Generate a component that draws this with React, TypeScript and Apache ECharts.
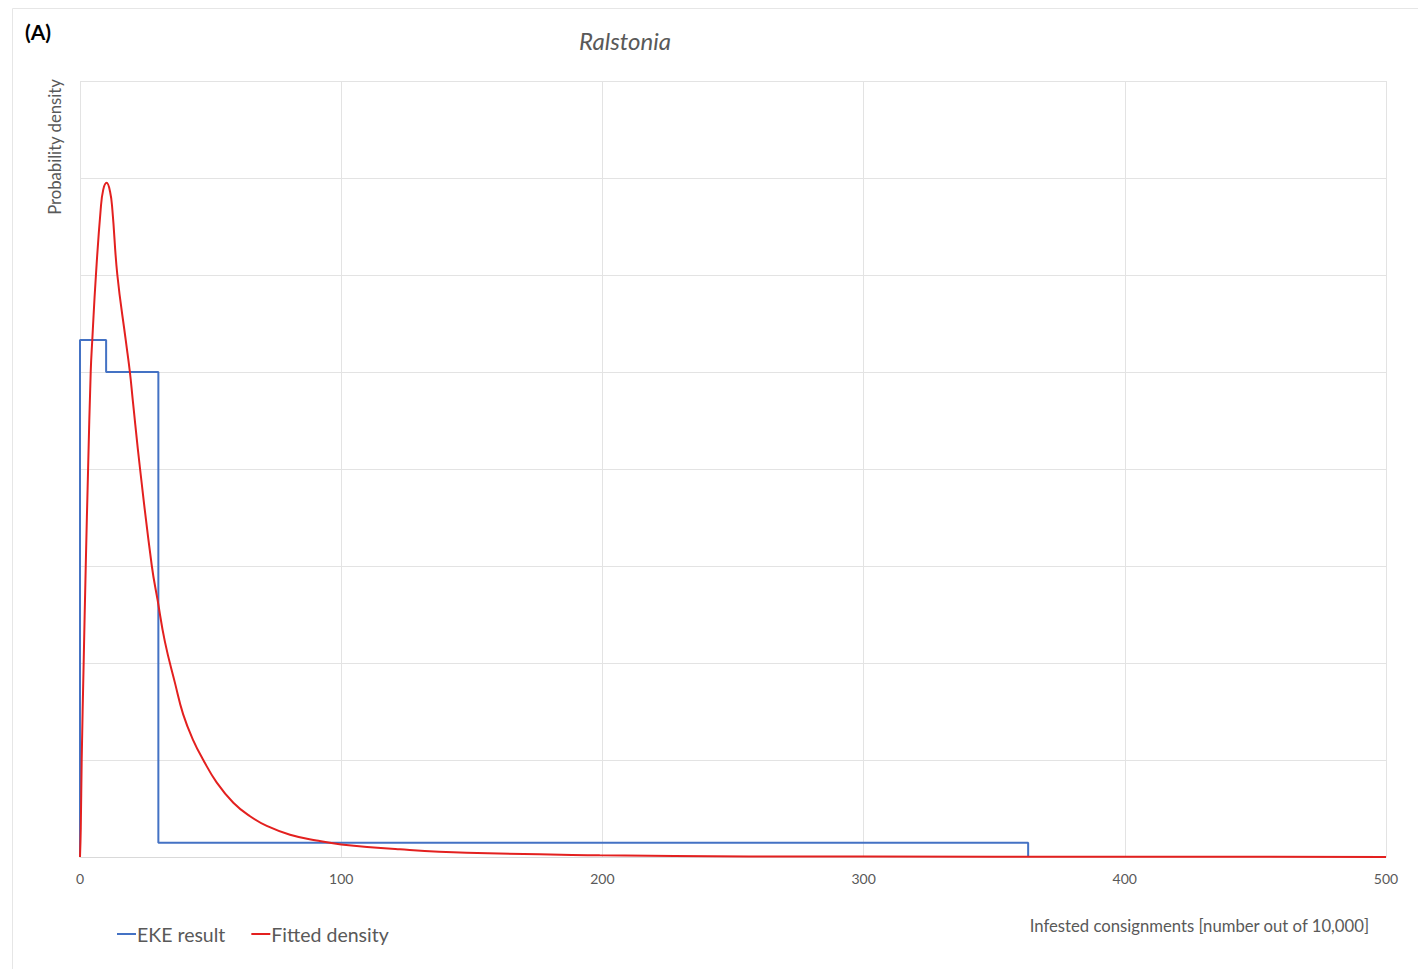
import React, { useEffect, useRef } from "react";
import * as echarts from "echarts";

const titleText = "Ralstonia";
const panelLabel = "(A)";
const yAxisTitle = "Probability density";
const xAxisTitle = "Infested consignments [number out of 10,000]";
const seriesNames = ["EKE result", "Fitted density"];

// EKE result (step histogram outline)
const ekeX = [0, 0, 10, 10, 30, 30, 363, 363];
const ekeY = [0, 5.33, 5.33, 5.0, 5.0, 0.147, 0.147, 0];

// Fitted density curve
const fitX = [0, 0.3, 0.65, 1.4, 2.2, 3.1, 4.1, 4.7, 6.1, 7.9, 8.9, 10.2, 11.5, 12.4, 14.3, 17.5, 19.1, 20.2, 23.0, 27.5, 29.7, 32.5, 36.4, 39.5, 43.4, 47.2, 52.3, 58.7, 65.1, 71.5, 80.4, 90.6, 100, 122.5, 148, 199, 256, 300, 400, 500];
const fitY = [0, 0.3, 1.0, 2.0, 3.0, 4.0, 5.0, 5.33, 6.0, 6.67, 6.88, 6.95, 6.86, 6.67, 6.0, 5.33, 5.0, 4.71, 4.0, 3.0, 2.65, 2.22, 1.79, 1.47, 1.2, 1.0, 0.77, 0.56, 0.42, 0.32, 0.23, 0.17, 0.13, 0.08, 0.044, 0.018, 0.006, 0.004, 0.002, 0.001];

const FONT = "Lato, 'Open Sans', sans-serif";
const GREY = "#595959";

export default function App() {
  const ref = useRef<HTMLDivElement>(null);
  useEffect(() => {
    if (!ref.current) return;
    const chart = echarts.init(ref.current, undefined, { renderer: "svg" });
    const ekeData = ekeX.map((x, i) => [x, ekeY[i]]);
    const fitData = fitX.map((x, i) => [x, fitY[i]]);
    chart.setOption({
      animation: false,
      backgroundColor: "#ffffff",
      textStyle: { fontFamily: FONT },
      grid: { left: 80, top: 81, right: 32, bottom: 112, containLabel: false },
      xAxis: {
        type: "value",
        min: 0,
        max: 500,
        interval: 100,
        axisLine: { show: true, lineStyle: { color: "#d9d9d9", width: 1 } },
        axisTick: { show: false },
        axisLabel: { color: GREY, fontSize: 14, margin: 14, fontFamily: FONT },
        splitLine: { show: true, lineStyle: { color: "#e3e3e3", width: 1 } },
      },
      yAxis: {
        type: "value",
        min: 0,
        max: 8,
        interval: 1,
        axisLine: { show: false },
        axisTick: { show: false },
        axisLabel: { show: false },
        splitLine: { show: true, lineStyle: { color: "#e3e3e3", width: 1 } },
      },
      legend: {
        left: 117,
        top: 924,
        padding: 0,
        itemWidth: 19,
        itemHeight: 2,
        itemGap: 26,
        icon: "rect",
        textStyle: { color: GREY, fontSize: 19.5, fontFamily: FONT, padding: [0, 0, 0, -4] },
        data: seriesNames,
      },
      series: [
        {
          name: seriesNames[0],
          type: "line",
          data: ekeData,
          showSymbol: false,
          symbol: "none",
          lineStyle: { color: "#4472C4", width: 2 },
          itemStyle: { color: "#4472C4" },
          z: 2,
        },
        {
          name: seriesNames[1],
          type: "line",
          data: fitData,
          showSymbol: false,
          symbol: "none",
          smooth: 0.45,
          lineStyle: { color: "#E3201F", width: 2 },
          itemStyle: { color: "#E3201F" },
          z: 3,
        },
      ],
      graphic: [
        {
          type: "rect",
          left: 10,
          top: 6,
          shape: { x: 0, y: 0, width: 1420, height: 980 },
          style: { fill: "none", stroke: "#e6e6e6", lineWidth: 1 },
          silent: true,
          z: -10,
        },
        {
          type: "text",
          left: 25,
          top: 21,
          style: { text: panelLabel, fontSize: 21, fontWeight: "bold", fill: "#000000", fontFamily: FONT },
        },
        {
          type: "text",
          x: 625,
          y: 40,
          style: {
            text: titleText,
            fontSize: 24,
            fontStyle: "italic",
            fill: GREY,
            fontFamily: FONT,
            align: "center",
            verticalAlign: "middle",
          },
        },
        {
          type: "text",
          x: 55,
          y: 147,
          rotation: Math.PI / 2,
          style: {
            text: yAxisTitle,
            fontSize: 16.7,
            fill: GREY,
            fontFamily: FONT,
            align: "center",
            verticalAlign: "middle",
          },
        },
        {
          type: "text",
          x: 1369,
          y: 926,
          style: {
            text: xAxisTitle,
            fontSize: 16.7,
            fill: GREY,
            fontFamily: FONT,
            align: "right",
            verticalAlign: "middle",
          },
        },
      ],
    });
    return () => chart.dispose();
  }, []);
  return (
    <div
      ref={ref}
      style={{ position: "fixed", left: 0, top: 0, width: 1418, height: 969, background: "#fff" }}
    />
  );
}
